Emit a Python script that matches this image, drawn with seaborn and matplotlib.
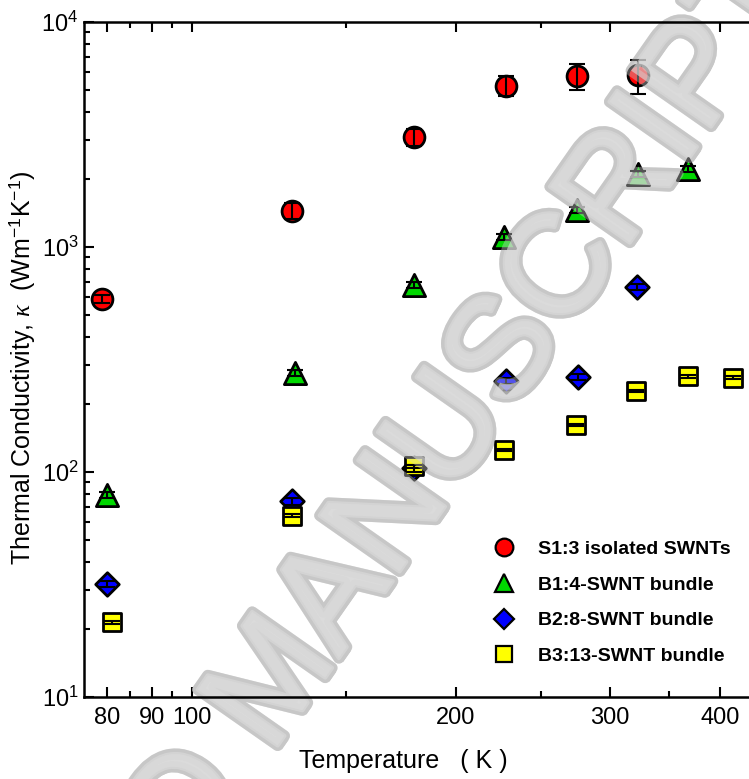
import matplotlib
matplotlib.use("Agg")
import matplotlib.pyplot as plt
import matplotlib.patheffects as pe
from matplotlib.ticker import FixedLocator, FixedFormatter, NullFormatter, LogLocator
import numpy as np
import pandas as pd
import seaborn as sns

# values
T_S1 = [79, 130, 179, 228, 275, 323]
K_S1 = [590, 1450, 3080, 5200, 5750, 5800]
E_S1 = [25, 120, 260, 530, 740, 1000]

T_B1 = [80, 131, 179, 227, 275, 323, 368]
K_B1 = [79, 275, 678, 1110, 1460, 2110, 2220]
E_B1 = [2.5, 9, 22, 35, 45, 65, 70]

T_B2 = [80, 130, 179, 228, 276, 322]
K_B2 = [31.8, 74, 104, 254, 264, 664]
E_B2 = [1.0, 2.5, 3.5, 8, 8, 20]

T_B3 = [81, 130, 179, 227, 274, 321, 368, 414]
K_B3 = [21.5, 64, 106, 125, 162, 229, 267, 262]
E_B3 = [0.3, 1.0, 1.5, 1.5, 2, 3, 4, 4]

LABELS = ["S1:3 isolated SWNTs", "B1:4-SWNT bundle", "B2:8-SWNT bundle", "B3:13-SWNT bundle"]
COLORS = ["#ff0000", "#00d800", "#0000ff", "#ffff00"]
MARKERS = ["o", "^", "D", "s"]
SIZES = [15, 16, 12, 13.5]

X_MAJOR = [80, 90, 100, 200, 300, 400]
X_MINOR = [85, 95, 150, 250, 350]

sns.set_theme(style="ticks")
plt.rcParams["font.family"] = ["Liberation Sans", "DejaVu Sans"]
plt.rcParams["mathtext.fontset"] = "custom"
plt.rcParams["mathtext.rm"] = "Liberation Sans"
plt.rcParams["mathtext.it"] = "Liberation Serif:italic"
plt.rcParams["text.color"] = "black"
plt.rcParams["axes.labelcolor"] = "black"

series = [
    (T_S1, K_S1, E_S1),
    (T_B1, K_B1, E_B1),
    (T_B2, K_B2, E_B2),
    (T_B3, K_B3, E_B3),
]
df = pd.concat(
    [pd.DataFrame({"T": t, "k": k, "err": e, "sample": lab})
     for (t, k, e), lab in zip(series, LABELS)],
    ignore_index=True,
)

fig = plt.figure(figsize=(7.49, 7.79), dpi=100)
ax = fig.add_axes([84 / 749, 82 / 779, 665 / 749, 675 / 779])

handles = []
for lab, col, mk, ms in zip(LABELS, COLORS, MARKERS, SIZES):
    sub = df[df["sample"] == lab]
    sns.scatterplot(data=sub, x="T", y="k", ax=ax, marker=mk, color=col,
                    s=ms ** 2, edgecolor="black", linewidth=2, zorder=2.2, legend=False)
    ax.errorbar(sub["T"], sub["k"], yerr=sub["err"], fmt="none", ecolor="black",
                elinewidth=1.5, capsize=6, capthick=1.5, zorder=2.25)
    handles.append(plt.Line2D([], [], ls="none", marker=mk, markerfacecolor=col,
                              markeredgecolor="black", markeredgewidth=1.6,
                              markersize=ms * 0.85, label=lab))

ax.set_xscale("log")
ax.set_yscale("log")
ax.set_xlim(75.3, 432)
ax.set_ylim(10, 1e4)

ax.xaxis.set_major_locator(FixedLocator(X_MAJOR))
ax.xaxis.set_major_formatter(FixedFormatter([str(v) for v in X_MAJOR]))
ax.xaxis.set_minor_locator(FixedLocator(X_MINOR))
ax.xaxis.set_minor_formatter(NullFormatter())
ax.yaxis.set_major_locator(LogLocator(base=10, numticks=10))
ax.yaxis.set_minor_locator(LogLocator(base=10, subs=np.arange(2, 10), numticks=10))

ax.tick_params(which="both", direction="in", top=True, right=False, width=1.5, colors="black")
ax.tick_params(which="major", length=7, labelsize=17)
ax.tick_params(which="minor", length=4)
ax.tick_params(axis="x", which="major", pad=7)
ax.tick_params(axis="y", which="major", pad=4)
for side in ["left", "bottom", "top"]:
    ax.spines[side].set_linewidth(1.8)
    ax.spines[side].set_color("black")
ax.spines["right"].set_visible(False)

ax.set_xlabel("Temperature   ( K )", fontsize=18)
ax.xaxis.set_label_coords(0.48, -0.077)
ax.set_ylabel(r"Thermal Conductivity, $\kappa$  (Wm$^{-1}$K$^{-1}$)", fontsize=18)
ax.yaxis.set_label_coords(-0.071, 0.487)

leg = ax.legend(handles=handles, loc="upper left", bbox_to_anchor=(0.617, 0.232),
                frameon=False, borderpad=0, borderaxespad=0, handlelength=1.0,
                handletextpad=1.25, labelspacing=0.93, prop={"weight": "bold", "size": 14})

# watermark: solid copy under the markers, faint copy over them
fx, fy = 271 / 749, 1 - 755 / 779
base = dict(fontsize=102, rotation=55, rotation_mode="anchor", va="baseline",
            transform=fig.transFigure, clip_on=False)
solid = dict(base, color="#dedede", zorder=2.0,
             path_effects=[pe.SimplePatchShadow(offset=(3, -3), shadow_rgbFace="#a8a8a8", alpha=0.6),
                           pe.withStroke(linewidth=8, foreground="#c2c2c2"),
                           pe.Stroke(linewidth=3, foreground="#d6d6d6"),
                           pe.Normal()])
veil = dict(base, color="#dadada", alpha=0.4, zorder=2.3,
            path_effects=[pe.withStroke(linewidth=8, foreground="#d0d0d0")])
for style in (solid, veil):
    ax.text(fx, fy, "MANUSCRIPT", ha="left", **style)
    ax.text(fx, fy, "ACCEPTED ", ha="right", **style)

fig.savefig("out.png", dpi=100)
